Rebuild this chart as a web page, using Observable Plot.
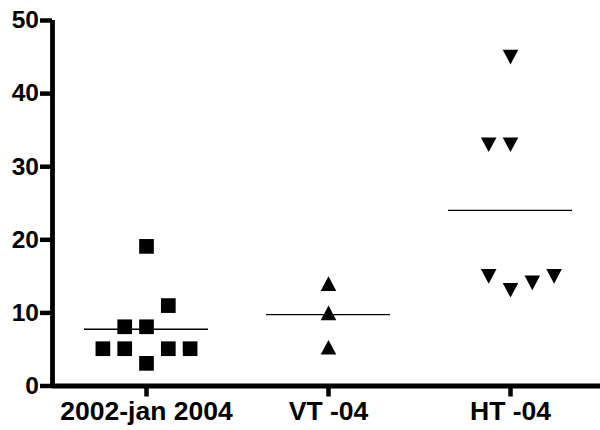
<!DOCTYPE html>
<html>
<head>
<meta charset="utf-8">
<script src="https://cdn.jsdelivr.net/npm/d3@7"></script>
<script src="https://cdn.jsdelivr.net/npm/@observablehq/plot@0.6"></script>
<style>
  html, body { margin: 0; padding: 0; background: #fff; }
  #chart svg { display: block; }
</style>
</head>
<body>
<div id="chart"></div>
<script>
// ---- data ----
const categories = ["2002-jan 2004", "VT -04", "HT -04"];
const group1 = [3.1, 5.1, 5.1, 5.1, 5.1, 8.1, 8.1, 11, 19.1];   // squares
const group2 = [14, 10, 5.3];                                   // up triangles
const group3 = [45, 33, 33, 13.1, 14.1, 15, 15];                // down triangles
const yTicks = [0, 10, 20, 30, 40, 50];

// ---- layout constants ----
const W = 600, H = 430;
const marginLeft = 52, marginRight = 0, marginTop = 20, marginBottom = 44.5;
const xDomain = [-0.5165, 2.4945];
const pxPerUnit = (W - marginLeft - marginRight) / (xDomain[1] - xDomain[0]);
const slotPx = 21.8;       // horizontal spacing of side-by-side symbols
const halfMeanLine = 62;   // half length of mean line, px
const conflict = 2.95;     // vertical closeness (data units) forcing side-by-side

// Simple column scatter arrangement: place at centre, else alternate sides
function arrange(values) {
  const placed = [];
  let pref = -1;
  return values.map(v => {
    const busy = s => placed.some(p => p.slot === s && Math.abs(p.v - v) < conflict);
    let slot = 0;
    if (busy(0)) {
      for (let k = 1; ; k++) {
        if (!busy(pref * k)) { slot = pref * k; break; }
        if (!busy(-pref * k)) { slot = -pref * k; break; }
      }
    }
    if (slot !== 0) pref = -Math.sign(slot);
    placed.push({v, slot});
    return slot;
  });
}

const groups = [group1, group2, group3];
const points = groups.map((vals, g) => {
  const slots = arrange(vals);
  return vals.map((v, i) => ({g, v, x: g + slots[i] * slotPx / pxPerUnit}));
});
const means = groups.map((vals, g) => ({
  x1: g - halfMeanLine / pxPerUnit,
  x2: g + halfMeanLine / pxPerUnit,
  y: d3.mean(vals)
}));

// custom symbols, centred on their bounding box
const rOf = size => Math.sqrt(size / Math.PI);
const squareSym = {draw(ctx, size) {
  const r = rOf(size);
  ctx.moveTo(-r, -r); ctx.lineTo(r, -r); ctx.lineTo(r, r); ctx.lineTo(-r, r); ctx.closePath();
}};
const triUp = {draw(ctx, size) {
  const r = rOf(size), h = r * 0.94;
  ctx.moveTo(0, -h); ctx.lineTo(r, h); ctx.lineTo(-r, h); ctx.closePath();
}};
const triDown = {draw(ctx, size) {
  const r = rOf(size), h = r * 0.94;
  ctx.moveTo(-r, -h); ctx.lineTo(r, -h); ctx.lineTo(0, h); ctx.closePath();
}};

const font = "'Liberation Sans', Arial, Helvetica, sans-serif";

const chart = Plot.plot({
  width: W,
  height: H,
  marginLeft, marginRight, marginTop, marginBottom,
  style: {fontFamily: font, background: "#fff", color: "#000"},
  x: {type: "linear", domain: xDomain},
  y: {domain: [0, 50]},
  marks: [
    Plot.axisY({
      ticks: yTicks, tickSize: 12, tickPadding: 1.5, strokeWidth: 4.5,
      fontSize: 24.5, fontWeight: "bold", label: null, tickFormat: d => d
    }),
    Plot.axisX({
      ticks: [0, 1, 2], tickFormat: i => categories[i],
      tickSize: 11, tickPadding: 4.5, strokeWidth: 4.5,
      fontSize: 26.5, fontWeight: "bold", label: null
    }),
    Plot.ruleX([xDomain[0]], {strokeWidth: 4.8, stroke: "#000"}),
    Plot.ruleY([0], {strokeWidth: 4.8, stroke: "#000"}),
    Plot.ruleY(means, {x1: "x1", x2: "x2", y: "y", stroke: "#000", strokeWidth: 1.4}),
    Plot.dot(points[0], {x: "x", y: "v", symbol: squareSym, r: 7.35, fill: "#000", stroke: "none"}),
    Plot.dot(points[1], {x: "x", y: "v", symbol: triUp, r: 7.8, fill: "#000", stroke: "none"}),
    Plot.dot(points[2], {x: "x", y: "v", symbol: triDown, r: 7.8, fill: "#000", stroke: "none"})
  ]
});
document.getElementById("chart").appendChild(chart);
</script>
</body>
</html>
